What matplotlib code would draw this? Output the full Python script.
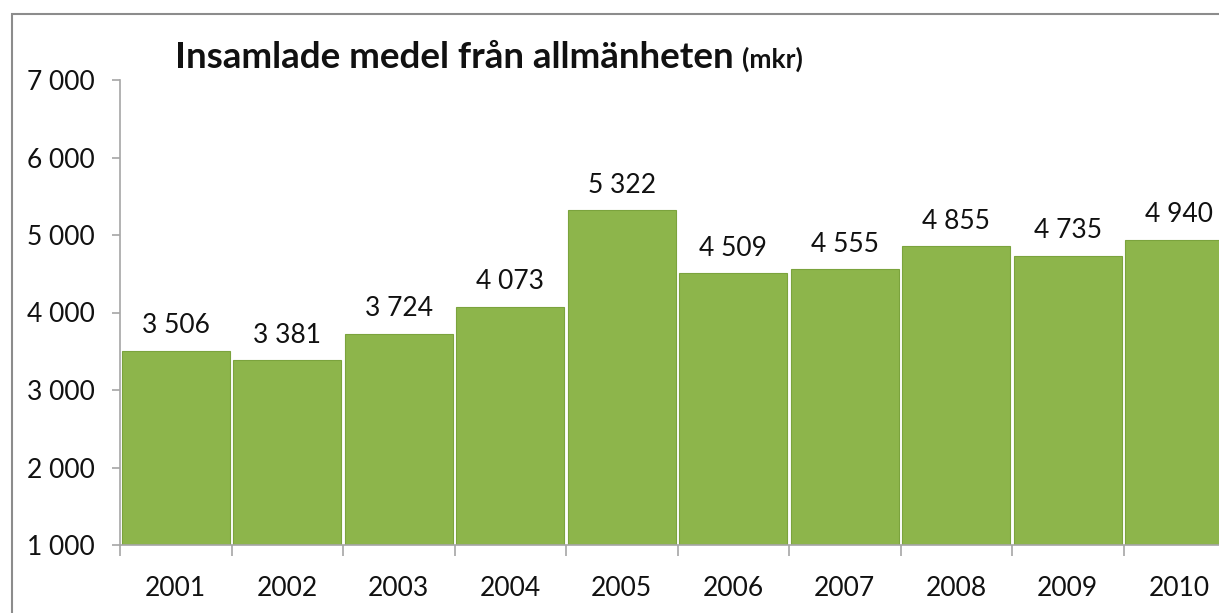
import matplotlib
matplotlib.use("Agg")
import matplotlib.pyplot as plt
from matplotlib.patches import Rectangle
from matplotlib.ticker import FixedLocator, FuncFormatter

# ---- data ----
years = ["2001", "2002", "2003", "2004", "2005", "2006", "2007", "2008", "2009", "2010"]
values = [3506, 3381, 3724, 4073, 5322, 4509, 4555, 4855, 4735, 4940]

BAR_COLOR = "#8db54b"
EDGE_COLOR = "#7ba33d"
AXIS_COLOR = "#a6a6a6"

plt.rcParams['font.family'] = ['Lato', 'DejaVu Sans']


def space_thousands(v):
    return f"{int(round(v)):,}".replace(",", " ")


fig = plt.figure(figsize=(12.19, 6.13), dpi=100)
W, H = 1219, 613

# grey frame around the chart (cut off at the right and bottom)
fig.patches.append(Rectangle((12 / W, -0.01), 1.1, 1 - 14 / H + 0.01,
                             transform=fig.transFigure, fill=False,
                             edgecolor="#8c8c8c", linewidth=1.5))

ax = fig.add_axes([120 / W, 1 - 545 / H, 1115 / W, 465 / H])

x = list(range(len(years)))
ax.bar(x, [v - 1000 for v in values], bottom=1000, width=0.965,
       color=BAR_COLOR, edgecolor=EDGE_COLOR, linewidth=0.8)

for xi, v in zip(x, values):
    ax.annotate(space_thousands(v), (xi, v), xytext=(0, 9),
                textcoords="offset points", ha="center", va="bottom",
                fontsize=19, color="#111111")

ax.set_xlim(-0.5, len(years) - 0.5)
ax.set_ylim(1000, 7000)
ax.set_yticks(range(1000, 7001, 1000))
ax.yaxis.set_major_formatter(FuncFormatter(lambda v, p: space_thousands(v)))

# category labels centred, tick marks on the boundaries
ax.set_xticks(x)
ax.set_xticklabels(years)
ax.xaxis.set_minor_locator(FixedLocator([i - 0.5 for i in range(len(years) + 1)]))
ax.tick_params(axis="x", which="major", length=0, pad=22, labelsize=19,
               labelcolor="#111111")
ax.tick_params(axis="x", which="minor", length=8, color=AXIS_COLOR, width=1.2)
ax.tick_params(axis="y", length=6, color=AXIS_COLOR, width=1.2, pad=12,
               labelsize=19, labelcolor="#111111")

for s in ["top", "right"]:
    ax.spines[s].set_visible(False)
for s in ["left", "bottom"]:
    ax.spines[s].set_color(AXIS_COLOR)
    ax.spines[s].set_linewidth(1.2)

# title in two parts: big bold + smaller "(mkr)"
t1 = fig.text(175 / W, 1 - 68 / H, "Insamlade medel från allmänheten",
              fontsize=26.5, fontweight="bold", va="baseline", color="#111111")
fig.canvas.draw()
bb = t1.get_window_extent()
fig.text((bb.x1 + 8) / W, 1 - 68 / H, "(mkr)", fontsize=19,
         fontweight="bold", va="baseline", color="#111111")

fig.savefig("out.png", dpi=100)
